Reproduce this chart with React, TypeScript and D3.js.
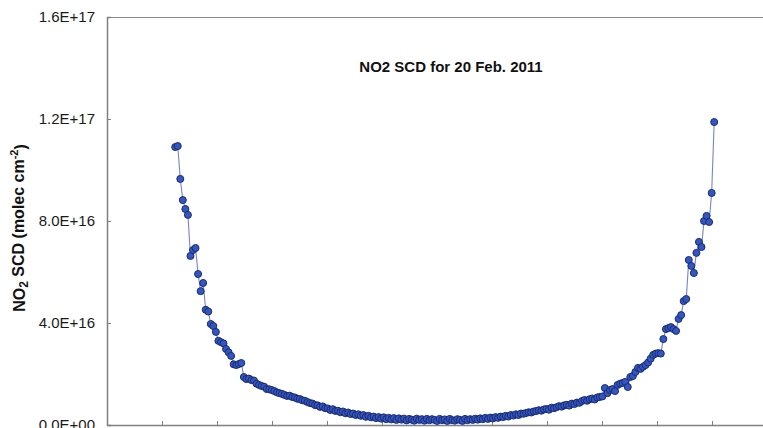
import * as d3 from "d3";
import React, { useEffect, useRef } from "react";

// NO2 slant column density (units of 1E+16 molec cm-2), in measurement order
const scdValues = [
  10.9, 10.94, 9.65, 8.82, 8.47, 8.24, 6.63, 6.86, 6.94, 5.92,
  5.25, 5.57, 4.52, 4.45, 3.96, 3.88, 3.65, 3.3, 3.25, 3.2,
  2.98, 2.85, 2.71, 2.38, 2.35, 2.39, 2.43, 1.88, 1.8, 1.82,
  1.76, 1.74, 1.62, 1.57, 1.53, 1.5, 1.41, 1.4, 1.37, 1.33,
  1.28, 1.25, 1.22, 1.18, 1.14, 1.15, 1.1, 1.08, 1.03, 1.02,
  0.97, 0.95, 0.9, 0.86, 0.84, 0.78, 0.77, 0.71, 0.73, 0.66,
  0.65, 0.59, 0.62, 0.55, 0.56, 0.5, 0.53, 0.46, 0.49, 0.43,
  0.45, 0.39, 0.42, 0.36, 0.39, 0.32, 0.36, 0.3, 0.33, 0.27,
  0.31, 0.25, 0.3, 0.23, 0.28, 0.22, 0.27, 0.2, 0.26, 0.21,
  0.25, 0.18, 0.24, 0.21, 0.17, 0.25, 0.2, 0.23, 0.17, 0.24,
  0.19, 0.23, 0.2, 0.16, 0.24, 0.19, 0.22, 0.16, 0.24, 0.19,
  0.17, 0.23, 0.2, 0.16, 0.24, 0.19, 0.23, 0.2, 0.25, 0.21,
  0.26, 0.23, 0.28, 0.24, 0.29, 0.26, 0.31, 0.28, 0.33, 0.31,
  0.36, 0.33, 0.39, 0.37, 0.42, 0.39, 0.45, 0.44, 0.47, 0.5,
  0.49, 0.53, 0.55, 0.58, 0.56, 0.61, 0.63, 0.6, 0.68, 0.66,
  0.7, 0.74, 0.72, 0.77, 0.79, 0.76, 0.84, 0.82, 0.88, 0.87,
  0.94, 0.98, 0.95, 1.01, 1.04, 1.0, 1.08, 1.1, 1.12, 1.45,
  1.25, 1.37, 1.41, 1.33, 1.57, 1.62, 1.65, 1.69, 1.49, 1.88,
  1.92, 2.08, 2.24, 2.2, 2.28, 2.35, 2.45, 2.6, 2.75, 2.8,
  2.82, 2.8, 3.37, 3.76, 3.8, 3.84, 3.76, 3.69, 4.16, 4.31,
  4.86, 4.94, 6.47, 6.24, 5.96, 6.75, 7.18, 6.98, 8.0, 8.2,
  7.96, 9.1, 11.88,
];

// time of first and last measurement (hours), x axis hour ticks
const firstHour = 7.24;
const lastHour = 17.04;
const hourTicks = [6, 7, 8, 9, 10, 11, 12, 13, 14, 15, 16, 17, 18];
const yTicks = [0, 4e16, 8e16, 1.2e17, 1.6e17];
const yTickLabels = ["0.0E+00", "4.0E+16", "8.0E+16", "1.2E+17", "1.6E+17"];

const W = 763;
const H = 428;

const App = () => {
  const svgRef = useRef(null);

  useEffect(() => {
    const svg = d3.select(svgRef.current);
    svg.selectAll("*").remove();

    const left = 107, top = 17, bottom = 425, right = 767;
    const font = "'Liberation Sans', Arial, sans-serif";

    const xScale = d3.scaleLinear().domain([6, 18]).range([left, right]);
    const yScale = d3.scaleLinear().domain([0, 1.6e17]).range([bottom, top]);
    const idxToHour = d3.scaleLinear().domain([0, scdValues.length - 1]).range([firstHour, lastHour]);

    const points = scdValues.map((v, i) => ({ t: idxToHour(i), v: v * 1e16 }));

    // plot area top border
    svg.append("line")
      .attr("x1", left).attr("x2", W)
      .attr("y1", top + 0.5).attr("y2", top + 0.5)
      .attr("stroke", "#8a8a8a").attr("stroke-width", 1.2);

    // y axis
    const yAxis = svg.append("g")
      .attr("transform", `translate(${left},0)`)
      .call(d3.axisRight(yScale).tickValues(yTicks).tickSize(4).tickFormat(() => ""));
    yAxis.select(".domain").attr("stroke", "#808080").attr("stroke-width", 1.5);
    yAxis.selectAll(".tick line").attr("stroke", "#808080");

    svg.append("g")
      .selectAll("text")
      .data(yTicks)
      .enter()
      .append("text")
      .attr("x", 95)
      .attr("y", d => yScale(d))
      .attr("dy", "0.36em")
      .attr("text-anchor", "end")
      .attr("font-family", font)
      .attr("font-size", 15)
      .attr("fill", "#1a1a1a")
      .text((d, i) => yTickLabels[i]);

    // x axis
    const xAxis = svg.append("g")
      .attr("transform", `translate(0,${bottom})`)
      .call(d3.axisTop(xScale).tickValues(hourTicks).tickSize(4).tickSizeOuter(0).tickFormat(() => ""));
    xAxis.select(".domain").attr("stroke", "#808080").attr("stroke-width", 1.5);
    xAxis.selectAll(".tick line").attr("stroke", "#808080");

    // series line
    const line = d3.line()
      .x(d => xScale(d.t))
      .y(d => yScale(d.v));

    svg.append("path")
      .datum(points)
      .attr("fill", "none")
      .attr("stroke", "#7b82c8")
      .attr("stroke-width", 1.1)
      .attr("d", line);

    // markers
    svg.append("g")
      .selectAll("circle")
      .data(points)
      .enter()
      .append("circle")
      .attr("cx", d => xScale(d.t))
      .attr("cy", d => yScale(d.v))
      .attr("r", 3.5)
      .attr("fill", "#3357bf")
      .attr("stroke", "#1a2a75")
      .attr("stroke-width", 1);

    // chart title
    svg.append("text")
      .attr("x", 451)
      .attr("y", 67)
      .attr("dy", "0.36em")
      .attr("text-anchor", "middle")
      .attr("font-family", font)
      .attr("font-weight", "bold")
      .attr("font-size", 15)
      .attr("fill", "#111")
      .text("NO2 SCD for 20 Feb. 2011");

    // y axis title
    const yTitle = svg.append("text")
      .attr("transform", "translate(19,228) rotate(-90)")
      .attr("dy", "0.36em")
      .attr("text-anchor", "middle")
      .attr("font-family", font)
      .attr("font-weight", "bold")
      .attr("font-size", 16)
      .attr("fill", "#111");
    yTitle.append("tspan").text("NO");
    yTitle.append("tspan").attr("font-size", 12).attr("dy", "0.25em").text("2");
    yTitle.append("tspan").attr("dy", "-0.25em").text(" SCD (molec cm");
    yTitle.append("tspan").attr("font-size", 11).attr("dy", "-0.5em").text("-2");
    yTitle.append("tspan").attr("dy", "0.5em").text(")");
  }, []);

  return (
    <svg
      ref={svgRef}
      width={W}
      height={H}
      style={{ position: "absolute", left: 0, top: 0, background: "#fff" }}
    />
  );
};

export default App;
